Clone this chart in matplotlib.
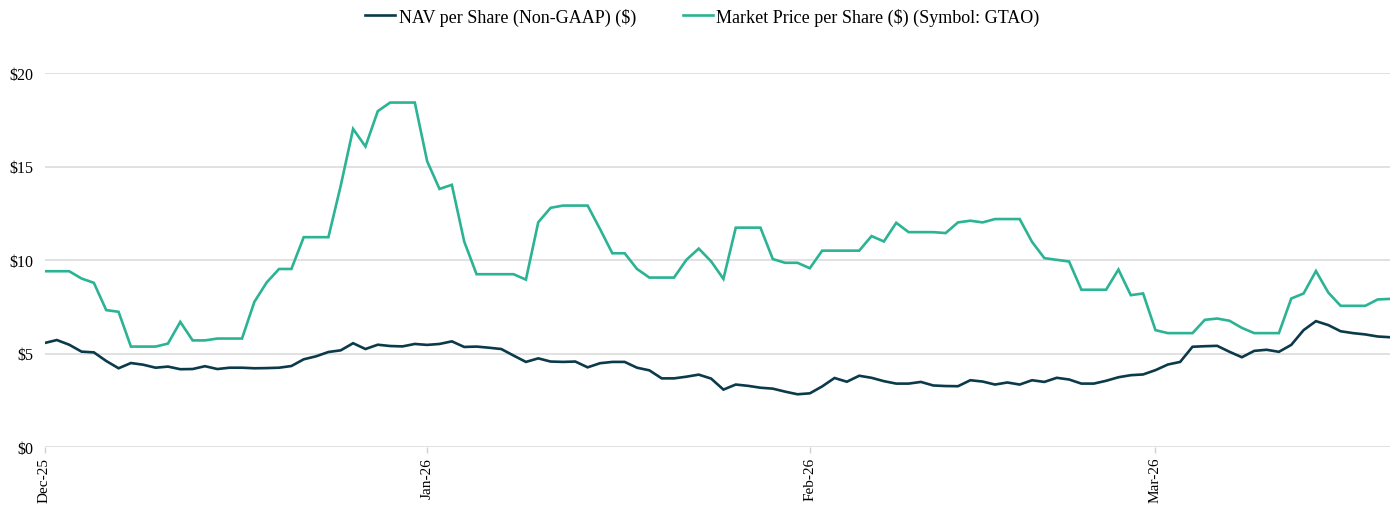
import matplotlib
matplotlib.use("Agg")
import matplotlib.pyplot as plt
import matplotlib.dates as mdates
import pandas as pd

start_date = "2025-12-01"
end_date = "2026-03-20"

nav_per_share = [
    5.56, 5.72, 5.47, 5.10, 5.06, 4.60, 4.21, 4.49, 4.40, 4.24, 4.30, 4.16, 4.17, 4.32, 4.17, 4.24,
    4.24, 4.21, 4.22, 4.24, 4.33, 4.69, 4.85, 5.08, 5.17, 5.55, 5.24, 5.47, 5.40, 5.38, 5.51,
    5.46, 5.51, 5.65, 5.35, 5.37, 5.31, 5.24, 4.89, 4.55, 4.74, 4.57, 4.55, 4.57, 4.26, 4.48, 4.55,
    4.55, 4.24, 4.10, 3.67, 3.67, 3.76, 3.87, 3.66, 3.07, 3.34, 3.27, 3.17, 3.12, 2.96, 2.82,
    2.87, 3.24, 3.69, 3.49, 3.81, 3.70, 3.52, 3.39, 3.39, 3.48, 3.29, 3.26, 3.25, 3.57, 3.50, 3.34,
    3.45, 3.34, 3.57, 3.48, 3.70, 3.61, 3.39, 3.39, 3.54, 3.73, 3.84, 3.88,
    4.11, 4.41, 4.55, 5.36, 5.39, 5.41, 5.09, 4.80, 5.14, 5.20, 5.09, 5.46, 6.25, 6.73, 6.52, 6.19,
    6.09, 6.02, 5.91, 5.87,
]

market_price = [
    9.40, 9.40, 9.40, 9.01, 8.78, 7.32, 7.23, 5.37, 5.37, 5.37, 5.53, 6.69, 5.70, 5.70, 5.80, 5.80,
    5.80, 7.76, 8.80, 9.52, 9.52, 11.22, 11.22, 11.22, 13.98, 17.01, 16.07, 17.96, 18.42, 18.42, 18.42,
    15.28, 13.80, 14.02, 10.99, 9.24, 9.24, 9.24, 9.24, 8.95, 12.02, 12.79, 12.91, 12.91, 12.91, 11.66, 10.36,
    10.36, 9.52, 9.06, 9.06, 9.06, 10.01, 10.61, 9.93, 8.99, 11.73, 11.73, 11.73, 10.05, 9.85, 9.85,
    9.56, 10.50, 10.50, 10.50, 10.50, 11.28, 10.99, 11.99, 11.49, 11.49, 11.49, 11.44, 12.01, 12.10, 12.01, 12.19,
    12.19, 12.19, 10.97, 10.10, 10.01, 9.92, 8.41, 8.41, 8.41, 9.49, 8.12, 8.21,
    6.25, 6.09, 6.09, 6.09, 6.80, 6.87, 6.75, 6.37, 6.09, 6.09, 6.09, 7.94, 8.21, 9.41, 8.26, 7.55,
    7.55, 7.55, 7.89, 7.92,
]

y_ticks = [0, 5, 10, 15, 20]
y_tick_labels = ["$0", "$5", "$10", "$15", "$20"]
series_labels = ["NAV per Share (Non-GAAP) ($)", "Market Price per Share ($) (Symbol: GTAO)"]

dates = pd.date_range(start_date, end_date, freq="D")

plt.rcParams["font.family"] = ["Liberation Serif", "DejaVu Serif"]

fig = plt.figure(figsize=(13.94, 5.06), dpi=100)
ax = fig.add_axes([44.5 / 1394, 1 - 448 / 506, (1390 - 44.5) / 1394, (448 - 74) / 506])

nav_color = "#0b3a4a"
mkt_color = "#2bb394"

l1, = ax.plot(dates, nav_per_share, color=nav_color, lw=1.9, solid_joinstyle="miter", label=series_labels[0])
l2, = ax.plot(dates, market_price, color=mkt_color, lw=1.9, solid_joinstyle="miter", label=series_labels[1])

ax.set_xlim(dates[0], dates[-1])
ax.set_ylim(0, 20)
ax.set_yticks(y_ticks)
ax.set_yticklabels(y_tick_labels)
ax.grid(axis="y", color="#e1e1e1", lw=1.4)
ax.set_axisbelow(True)
for s in ["top", "right", "left", "bottom"]:
    ax.spines[s].set_visible(False)

ax.xaxis.set_major_locator(mdates.MonthLocator())
ax.xaxis.set_major_formatter(mdates.DateFormatter("%b-%y"))
ax.tick_params(axis="x", rotation=90, length=4, width=1, color="#d0d0d0", labelsize=11, pad=3)
ax.tick_params(axis="y", length=0, labelsize=11.5, pad=8)
for lbl in ax.get_xticklabels():
    lbl.set_va("top")

fig.legend(handles=[l1, l2], labels=series_labels, loc="upper center", bbox_to_anchor=(0.504, 1.015),
           ncol=2, frameon=False, fontsize=13, handlelength=1.65, handletextpad=0.2, columnspacing=2.6)

fig.savefig("out.png", dpi=100)
